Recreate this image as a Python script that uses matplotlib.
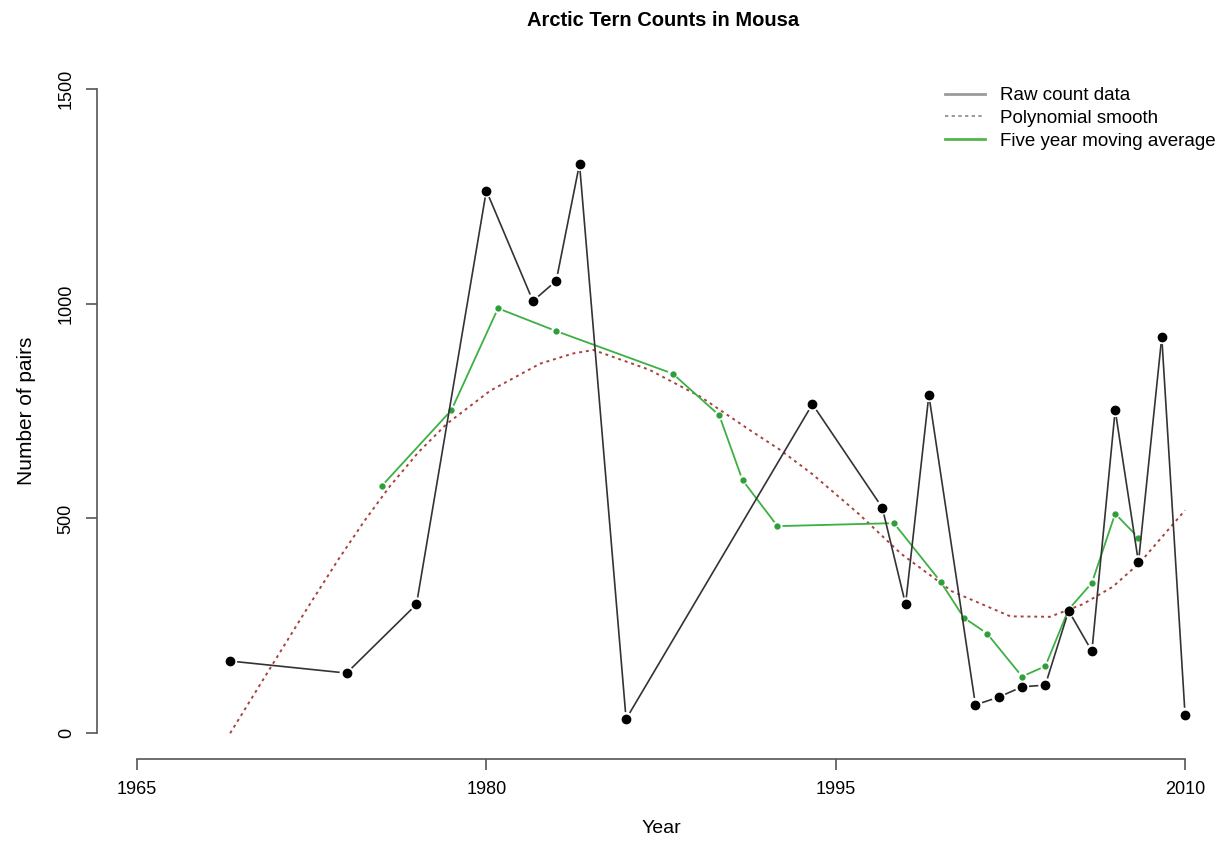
import matplotlib
matplotlib.use("Agg")
import matplotlib.pyplot as plt
import numpy as np
from matplotlib.lines import Line2D
from matplotlib.collections import LineCollection

plt.rcParams['font.family'] = ['Liberation Sans', 'DejaVu Sans']

# raw counts
years = [1969, 1974, 1977, 1980, 1982, 1983, 1984, 1986, 1994, 1997, 1998,
         1999, 2001, 2002, 2003, 2004, 2005, 2006, 2007, 2008, 2009, 2010]
counts = [168, 140, 300, 1263, 1006, 1053, 1325, 33, 766, 525, 300,
          787, 66, 84, 108, 112, 285, 191, 752, 398, 922, 43]

# five year moving average
ma_years = [1975.5, 1978.5, 1980.5, 1983, 1988, 1990, 1991, 1992.5, 1997.5,
            1999.5, 2000.5, 2001.5, 2003, 2004, 2005, 2006, 2007, 2008]
ma_values = [575, 752, 989, 936, 837, 740, 589, 482, 489,
             353, 269, 232, 132, 156, 288, 350, 511, 455]

# polynomial smooth
poly_years = [1969.0, 1970.85, 1972.3, 1973.64, 1974.75, 1975.86, 1977.1, 1978.3,
              1980.16, 1982.3, 1983.73, 1984.6, 1987.0, 1989.2, 1991.3, 1992.6,
              1994.0, 1996.0, 1997.8, 2000.0, 2002.5, 2004.2, 2005.6, 2006.9,
              2008.06, 2010.0]
poly_values = [0, 163, 290, 404, 493, 575, 655, 720,
               797, 860, 884, 892, 846, 783, 706, 660,
               603, 510, 418, 330, 272, 271, 300, 341,
               397, 519]

fig = plt.figure(figsize=(12.25, 8.48), dpi=100)
ax = fig.add_axes([97/1225, 1-759/848, 1-97/1225, (759-63)/848])
ax.set_xlim(1965 - 40/23.29, 1965 + (1225-137)/23.29)
ax.set_ylim(-60, 1560)

green = '#3cb043'
red = '#a8423e'


def gapped(ax, x, y, gap, **kw):
    # R type="b": line segments stop short of the points
    pts = ax.transData.transform(np.column_stack([x, y]))
    segs = []
    for p, q in zip(pts[:-1], pts[1:]):
        d = q - p
        n = np.hypot(*d)
        if n <= 2 * gap:
            continue
        u = d / n
        segs.append([p + u * gap, q - u * gap])
    inv = ax.transData.inverted()
    segs = [inv.transform(np.array(s)) for s in segs]
    ax.add_collection(LineCollection(segs, **kw))


ax.plot(poly_years, poly_values, color=red, lw=1.4, linestyle=(0, (1.5, 2.0)), zorder=2)

gapped(ax, ma_years, ma_values, 5, colors=green, linewidths=1.3, zorder=3)
ax.plot(ma_years, ma_values, linestyle='none', marker='o', markersize=3.5,
        markerfacecolor='#2e9e3a', markeredgecolor='#2e9e3a', zorder=3)

gapped(ax, years, counts, 7, colors='#333333', linewidths=1.2, zorder=4)
ax.plot(years, counts, linestyle='none', marker='o', markersize=6,
        markerfacecolor='black', markeredgecolor='black', zorder=4)

for s in ['top', 'right']:
    ax.spines[s].set_visible(False)
ax.spines['left'].set_bounds(0, 1500)
ax.spines['bottom'].set_bounds(1965, 2010)
for s in ['left', 'bottom']:
    ax.spines[s].set_color('#555555')
    ax.spines[s].set_linewidth(1.2)

ax.set_xticks([1965, 1980, 1995, 2010])
ax.set_yticks([0, 500, 1000, 1500])
ax.tick_params(axis='both', length=8, width=1.2, color='#555555', labelsize=13, pad=8)
for lab in ax.get_yticklabels():
    lab.set_rotation(90)
    lab.set_va('center')

ax.set_xlabel('Year', fontsize=14, labelpad=16)
ax.set_ylabel('Number of pairs', fontsize=15, labelpad=16)
fig.text(663/1225, 1-20/848, 'Arctic Tern Counts in Mousa', ha='center', va='center',
         fontsize=14.5, fontweight='bold')

handles = [Line2D([], [], color='#9a9a9a', lw=2),
           Line2D([], [], color='#888888', lw=1.2, linestyle=(0, (2, 2))),
           Line2D([], [], color='#55b44a', lw=2)]
labels = ['Raw count data', 'Polynomial smooth', 'Five year moving average']
fig.legend(handles, labels, loc='upper left', bbox_to_anchor=(945/1225, 1-87/848),
           frameon=False, fontsize=13.5, handlelength=2.13, handletextpad=0.8,
           labelspacing=0.3, borderpad=0, borderaxespad=0)

fig.savefig('out.png', dpi=100)
